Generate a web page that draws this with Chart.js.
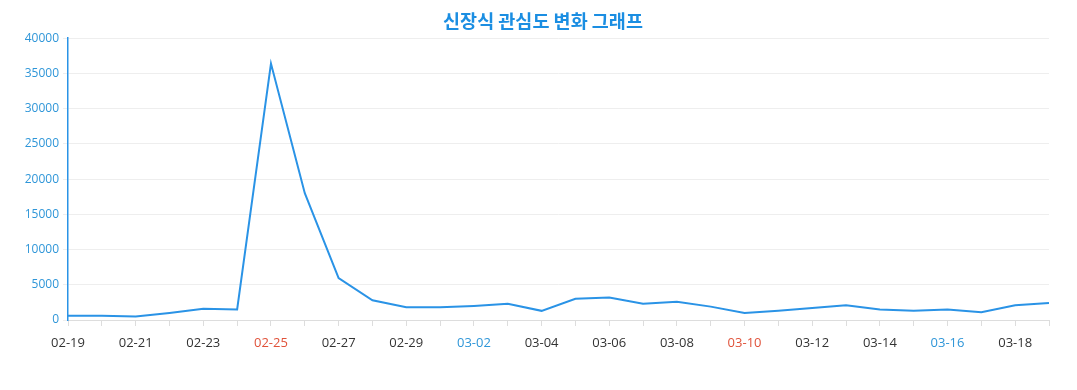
<!DOCTYPE html>
<html>
<head>
<meta charset="utf-8">
<script src="https://cdn.jsdelivr.net/npm/chart.js@4/dist/chart.umd.min.js"></script>
<style>
html,body{margin:0;padding:0;background:#fff;}
#wrap{width:1077px;height:390px;}
</style>
</head>
<body>
<div id="wrap"><canvas id="c" width="1077" height="390"></canvas></div>
<script>
const categories = ['02-19','02-20','02-21','02-22','02-23','02-24','02-25','02-26','02-27','02-28','02-29',
  '03-01','03-02','03-03','03-04','03-05','03-06','03-07','03-08','03-09','03-10','03-11','03-12','03-13',
  '03-14','03-15','03-16','03-17','03-18','03-19'];
const interest = [600, 600, 500, 1000, 1600, 1500, 36400, 18000, 5950, 2800, 1800,
  1800, 2000, 2300, 1300, 3000, 3200, 2300, 2600, 1900, 1000, 1300, 1700, 2100,
  1500, 1300, 1500, 1100, 2100, 2400];
const sundays = ['02-25','03-03','03-10','03-17'];
const saturdays = ['02-24','03-02','03-09','03-16'];
const yTicks = [0,5000,10000,15000,20000,25000,30000,35000,40000];

new Chart(document.getElementById('c'), {
  type: 'line',
  data: {
    labels: categories,
    datasets: [{
      data: interest,
      borderColor: '#2a93e6',
      borderWidth: 2,
      pointRadius: 0,
      fill: false,
      tension: 0
    }]
  },
  options: {
    responsive: false,
    animation: false,
    layout: { padding: { left: 9, right: 0, top: 0, bottom: 0 } },
    plugins: {
      legend: { display: false },
      tooltip: { enabled: false },
      title: {
        display: true,
        text: '신장식 관심도 변화 그래프',
        color: '#1b8ee2',
        font: { family: '"Noto Sans CJK KR", "Noto Sans", sans-serif', size: 18.5, weight: 'bold' },
        padding: { top: 10, bottom: 6 }
      }
    },
    scales: {
      x: {
        grid: { display: true, drawOnChartArea: false, drawTicks: true, tickLength: 6, color: '#dddddd' },
        border: { display: true, color: '#dddddd', width: 1 },
        afterFit: (s) => { s.height = 70; },
        ticks: {
          autoSkip: false,
          maxRotation: 0,
          padding: 9,
          font: { family: '"Open Sans", sans-serif', size: 13 },
          callback: function(v, i) { return i % 2 === 0 ? categories[i] : ''; },
          color: (ctx) => {
            const l = categories[ctx.index];
            if (sundays.includes(l)) return '#e0523a';
            if (saturdays.includes(l)) return '#2f96d8';
            return '#333333';
          }
        }
      },
      y: {
        min: 0,
        max: 40000,
        afterBuildTicks: (s) => { s.ticks = yTicks.map(v => ({ value: v })); },
        afterFit: (s) => { s.width = 59; },
        grid: { color: '#eeeeee', drawTicks: true, tickLength: 5 },
        border: { display: true, color: '#2a93e6', width: 1.5 },
        ticks: {
          padding: 4,
          color: '#2f96d8',
          font: { family: '"Open Sans", sans-serif', size: 12 },
          callback: (v) => String(v)
        }
      },
      yRight: {
        position: 'right',
        display: true,
        grid: { display: false },
        border: { display: false },
        ticks: { display: false },
        afterFit: (s) => { s.width = 28; }
      }
    }
  }
});
</script>
</body>
</html>
